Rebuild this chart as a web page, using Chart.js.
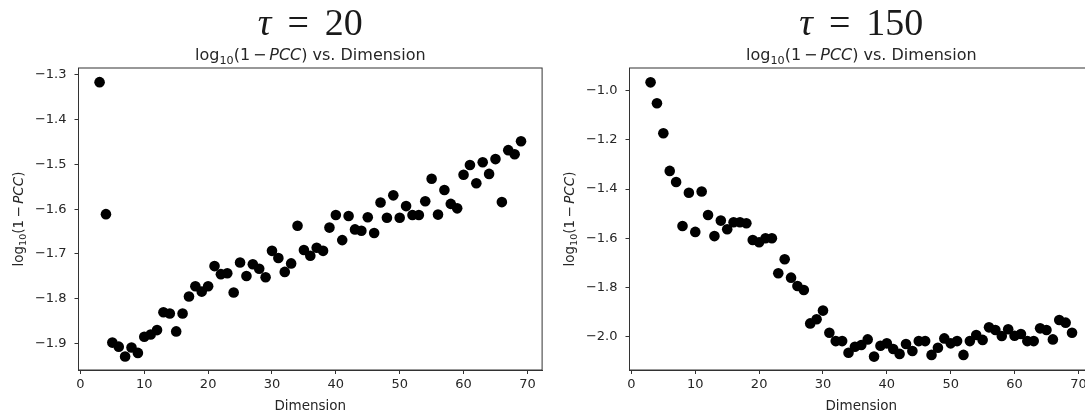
<!DOCTYPE html>
<html>
<head>
<meta charset="utf-8">
<script src="https://cdn.jsdelivr.net/npm/chart.js@4.4.1/dist/chart.umd.min.js"></script>
<style>
  html, body { margin: 0; padding: 0; background: #fff; overflow: hidden; }
  #wrap { position: relative; width: 1085px; height: 415px; overflow: hidden; }
  .cv { position: absolute; top: 0; }
</style>
</head>
<body>
<div id="wrap">
  <canvas id="c1" class="cv" width="560" height="415" style="left:0px"></canvas>
  <canvas id="c2" class="cv" width="560" height="415" style="left:551px"></canvas>
</div>
<script>
// ---------- DATA ----------
const dimensions = [3,4,5,6,7,8,9,10,11,12,13,14,15,16,17,18,19,20,21,22,23,24,25,26,27,28,29,30,31,32,33,34,35,36,
  37,38,39,40,41,42,43,44,45,46,47,48,49,50,51,52,53,54,55,56,57,58,59,60,61,62,63,64,65,66,67,68,69];

const tau20Values = [-1.316,-1.611,-1.898,-1.907,-1.929,-1.909,-1.921,-1.885,-1.880,-1.870,-1.830,-1.833,-1.873,-1.833,
  -1.795,-1.772,-1.784,-1.772,-1.727,-1.745,-1.743,-1.786,-1.719,-1.749,-1.723,-1.733,-1.752,-1.693,-1.709,-1.740,
  -1.721,-1.637,-1.691,-1.704,-1.686,-1.693,-1.641,-1.613,-1.669,-1.615,-1.645,-1.648,-1.618,-1.653,-1.585,-1.619,
  -1.569,-1.619,-1.593,-1.613,-1.613,-1.582,-1.532,-1.612,-1.557,-1.588,-1.598,-1.523,-1.501,-1.542,-1.495,-1.521,
  -1.488,-1.584,-1.468,-1.477,-1.448];

const tau150Values = [-0.966,-1.051,-1.173,-1.326,-1.371,-1.550,-1.415,-1.574,-1.410,-1.505,-1.591,-1.528,-1.563,-1.535,
  -1.535,-1.539,-1.607,-1.616,-1.600,-1.600,-1.742,-1.685,-1.760,-1.794,-1.810,-1.946,-1.929,-1.894,-1.984,-2.018,
  -2.018,-2.065,-2.041,-2.034,-2.011,-2.081,-2.037,-2.027,-2.050,-2.070,-2.030,-2.058,-2.018,-2.018,-2.074,-2.045,
  -2.007,-2.027,-2.018,-2.074,-2.018,-1.993,-2.013,-1.962,-1.973,-1.997,-1.970,-1.996,-1.989,-2.018,-2.018,-1.966,
  -1.973,-2.011,-1.932,-1.943,-1.984];

const xTicks = [0,10,20,30,40,50,60,70];
const yTicksTau20 = [-1.9,-1.8,-1.7,-1.6,-1.5,-1.4,-1.3];
const yTicksTau150 = [-2.0,-1.8,-1.6,-1.4,-1.2,-1.0];
const titles = ['20', '150'];
const yRanges = [[-1.9592, -1.2844], [-2.1354, -0.9077]];

// ---------- DRAWING HELPERS ----------
const TXT = '#262626';
const SANS = '"DejaVu Sans"';

function drawRich(ctx, parts, cx, baseline) {
  let total = 0;
  parts.forEach(p => { ctx.font = p.font; p.w = ctx.measureText(p.t).width + (p.gap || 0); total += p.w; });
  let x = cx - total / 2;
  ctx.textAlign = 'left';
  ctx.textBaseline = 'alphabetic';
  parts.forEach(p => { ctx.font = p.font; ctx.fillText(p.t, x + (p.pre || 0), baseline + (p.dy || 0)); x += p.w; });
}

function mathParts(size) {
  const n = size + 'px ' + SANS;
  const s = Math.round(size * 0.7 * 10) / 10 + 'px ' + SANS;
  const it = 'oblique ' + size + 'px ' + SANS;
  return [
    {t: 'log', font: n},
    {t: '10', font: s, dy: size * 0.22},
    {t: '(1', font: n},
    {t: '−', font: n, gap: size * 0.36, pre: size * 0.18},
    {t: 'PCC', font: it},
    {t: ')', font: n}
  ];
}

const decorPlugin = {
  id: 'decor',
  afterDraw(chart, args, opts) {
    const ctx = chart.ctx;
    const a = chart.chartArea;
    const cx = (a.left + a.right) / 2;
    ctx.save();
    // frame (top/right spines)
    ctx.strokeStyle = '#333';
    ctx.lineWidth = 1;
    ctx.strokeRect(a.left, a.top, a.right - a.left, a.bottom - a.top);
    ctx.fillStyle = '#1a1a1a';
    // big title  τ = N
    const F = 'px "Liberation Serif"';
    const size = 38;
    drawRich(ctx, [
      {t: 'τ', font: 'italic ' + size + F, gap: size * 0.42},
      {t: '=', font: size + F, gap: size * 0.42},
      {t: opts.tau, font: size + F}
    ], cx, 35);
    // subtitle
    ctx.fillStyle = TXT;
    const sp = mathParts(16);
    sp.push({t: ' vs. Dimension', font: '16px ' + SANS});
    drawRich(ctx, sp, cx, 60);
    // x label
    ctx.font = '13.5px ' + SANS;
    ctx.textAlign = 'center';
    ctx.textBaseline = 'alphabetic';
    ctx.fillText('Dimension', cx, 410);
    // y label
    ctx.translate(23, (a.top + a.bottom) / 2);
    ctx.rotate(-Math.PI / 2);
    drawRich(ctx, mathParts(13.5), 0, 0);
    ctx.restore();
  }
};

function fmt(v) { return v.toFixed(1).replace('-', '−'); }

function makeChart(id, values, yTicks, yRange, tau) {
  const pts = dimensions.map((d, i) => ({x: d, y: values[i]}));
  return new Chart(document.getElementById(id), {
    type: 'scatter',
    data: { datasets: [{ data: pts, backgroundColor: '#000', borderColor: '#000', pointRadius: 5.3, pointHoverRadius: 5.3, borderWidth: 0 }] },
    options: {
      responsive: false,
      animation: false,
      devicePixelRatio: 1,
      layout: { padding: { left: 0, top: 68, right: 17.9, bottom: 0 } },
      plugins: { legend: { display: false }, tooltip: { enabled: false }, decor: { tau: tau } },
      scales: {
        x: {
          type: 'linear', min: -0.3, max: 72.3,
          afterFit(s) { s.height = 45; },
          afterBuildTicks(s) { s.ticks = xTicks.map(v => ({value: v})); },
          grid: { display: true, drawOnChartArea: false, drawTicks: true, tickLength: 4, tickColor: '#333', tickWidth: 1 },
          border: { display: true, color: '#333', width: 1 },
          ticks: { color: TXT, font: { family: 'DejaVu Sans', size: 13 }, padding: 3, maxRotation: 0, autoSkip: false, callback: v => String(v) }
        },
        y: {
          type: 'linear', min: yRange[0], max: yRange[1],
          afterFit(s) { s.width = 78.5; },
          afterBuildTicks(s) { s.ticks = yTicks.map(v => ({value: v})); },
          grid: { display: true, drawOnChartArea: false, drawTicks: true, tickLength: 4, tickColor: '#333', tickWidth: 1 },
          border: { display: true, color: '#333', width: 1 },
          ticks: { color: TXT, font: { family: 'DejaVu Sans', size: 13 }, padding: 8, autoSkip: false, callback: v => fmt(v) }
        }
      }
    },
    plugins: [decorPlugin]
  });
}

makeChart('c1', tau20Values, yTicksTau20, yRanges[0], titles[0]);
makeChart('c2', tau150Values, yTicksTau150, yRanges[1], titles[1]);
</script>
</body>
</html>
